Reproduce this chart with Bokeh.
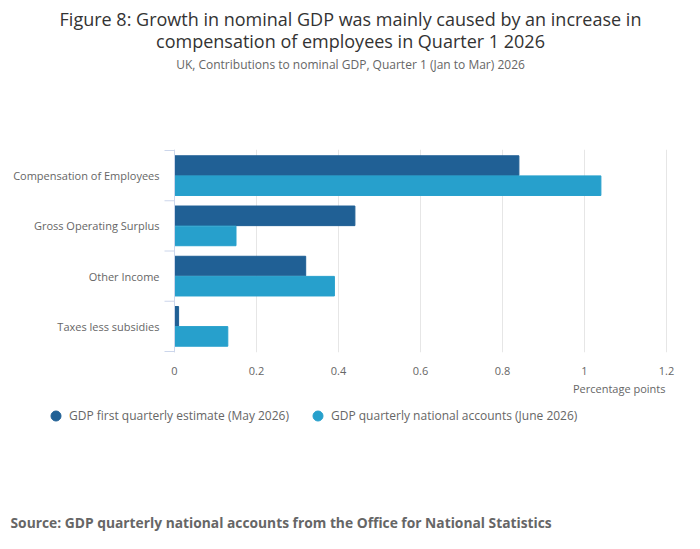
import numpy as np
from bokeh.plotting import figure
from bokeh.layouts import column
from bokeh.core.properties import value
from bokeh.models import (ColumnDataSource, Range1d, LinearAxis, FixedTicker, CustomJSTickFormatter,
                          Label, LabelSet, Legend, LegendItem, Span)
from bokeh.transform import dodge
from bokeh.embed import file_html
from bokeh.resources import INLINE

categories = ["Compensation of Employees", "Gross Operating Surplus", "Other Income", "Taxes less subsidies"]
first_estimate = [0.84, 0.44, 0.32, 0.01]
quarterly_accounts = [1.04, 0.15, 0.39, 0.13]
x_ticks = [0, 0.2, 0.4, 0.6, 0.8, 1.0, 1.2]

series_names = ["GDP first quarterly estimate (May 2026)", "GDP quarterly national accounts (June 2026)"]
colors = ["#206095", "#27a0cc"]

title_lines = ["Figure 8: Growth in nominal GDP was mainly caused by an increase in",
               "compensation of employees in Quarter 1 2026"]
subtitle = "UK, Contributions to nominal GDP, Quarter 1 (Jan to Mar) 2026"
source_note = "Source: GDP quarterly national accounts from the Office for National Statistics"

FONT = "Open Sans"
GREY = "#666666"
W = 700
PLOT_LEFT, PLOT_RIGHT = 174, 666   # pixel span of the value axis
X_MAX = 1.2


def blank(height, top):
    # plain text area, y counted in page pixels downwards
    f = figure(width=W, height=height, output_backend="svg", toolbar_location=None,
               x_range=Range1d(0, W), y_range=Range1d(top + height, top),
               x_axis_location=None, y_axis_location=None, min_border=0)
    f.outline_line_color = None
    f.grid.grid_line_color = None
    return f


# ---- titles
head = blank(100, 0)
for text, y in zip(title_lines, [18, 40]):
    head.add_layout(Label(x=W / 2, y=y, text=text, text_align="center", text_baseline="middle",
                          text_font=FONT, text_font_size="18px", text_color="#333333"))
head.add_layout(Label(x=W / 2, y=64, text=subtitle, text_align="center", text_baseline="middle",
                      text_font=FONT, text_font_size="12px", text_color=GREY))

# ---- chart
n = len(categories)
positions = [n - i - 0.5 for i in range(n)]  # first category at the top

source = ColumnDataSource(data=dict(pos=positions, cat=categories,
                                    first=first_estimate, qna=quarterly_accounts))

px = (PLOT_RIGHT - PLOT_LEFT) / X_MAX
p = figure(width=W, height=277, output_backend="svg", toolbar_location=None,
           x_range=Range1d(-PLOT_LEFT / px, X_MAX + (W - PLOT_RIGHT) / px),
           y_range=Range1d(-0.02, n + 0.02),
           x_axis_location=None, y_axis_location=None,
           min_border_left=0, min_border_right=0, min_border_top=49, min_border_bottom=24)
p.outline_line_color = None

p.hbar(y=dodge("pos", 0.2), right="first", left=0, height=0.39, source=source, color=colors[0])
p.hbar(y=dodge("pos", -0.2), right="qna", left=0, height=0.39, source=source, color=colors[1])

xaxis = LinearAxis(ticker=FixedTicker(ticks=x_ticks),
                   formatter=CustomJSTickFormatter(code="return String(Number(tick.toFixed(1)))"))
xaxis.axis_line_color = None
xaxis.major_tick_line_color = None
xaxis.minor_tick_line_color = None
xaxis.major_label_standoff = 8
xaxis.major_label_text_font = FONT
xaxis.major_label_text_font_size = "11px"
xaxis.major_label_text_color = GREY
p.add_layout(xaxis, "below")

p.xgrid.ticker = FixedTicker(ticks=x_ticks)
p.xgrid.grid_line_color = "#e6e6e6"
p.ygrid.grid_line_color = None

# category axis: line at zero, ticks between the categories, names in each band
p.add_layout(Span(location=0, dimension="height", line_color="#ccd6eb", line_width=1))
p.ray(x=0, y=list(range(n + 1)), length=10, length_units="screen", angle=np.pi,
      line_color="#ccd6eb", line_width=1)
p.add_layout(LabelSet(x=0, y="pos", text="cat", source=source, x_offset=-15,
                      text_align="right", text_baseline="middle", text_font=value(FONT),
                      text_font_size="11px", text_color=GREY))

# ---- axis title, legend, source
foot = blank(172, 377)
foot.add_layout(Label(x=PLOT_RIGHT - 1, y=388, text="Percentage points", text_align="right",
                      text_baseline="middle", text_font=FONT, text_font_size="11px", text_color=GREY))

# legend swatches need some data to draw from; the markers themselves stay hidden
m1 = foot.scatter(x="first", y="pos", source=source, marker="circle", color=colors[0], visible=False)
m2 = foot.scatter(x="qna", y="pos", source=source, marker="circle", color=colors[1], visible=False)
legend = Legend(items=[LegendItem(label=series_names[0], renderers=[m1]),
                       LegendItem(label=series_names[1], renderers=[m2])],
                location=(43, 121), orientation="horizontal",
                glyph_width=25, glyph_height=25, label_standoff=1, spacing=16,
                padding=0, margin=0, border_line_color=None, background_fill_alpha=0,
                inactive_fill_alpha=0,
                label_text_font=FONT, label_text_font_size="12px", label_text_color=GREY)
foot.add_layout(legend, "center")

foot.add_layout(Label(x=10, y=522, text=source_note, text_align="left", text_baseline="middle",
                      text_font=FONT, text_font_size="13.8px", text_font_style="bold", text_color=GREY))

layout = column(head, p, foot)
open("out.html", "w").write(file_html(layout, INLINE))
